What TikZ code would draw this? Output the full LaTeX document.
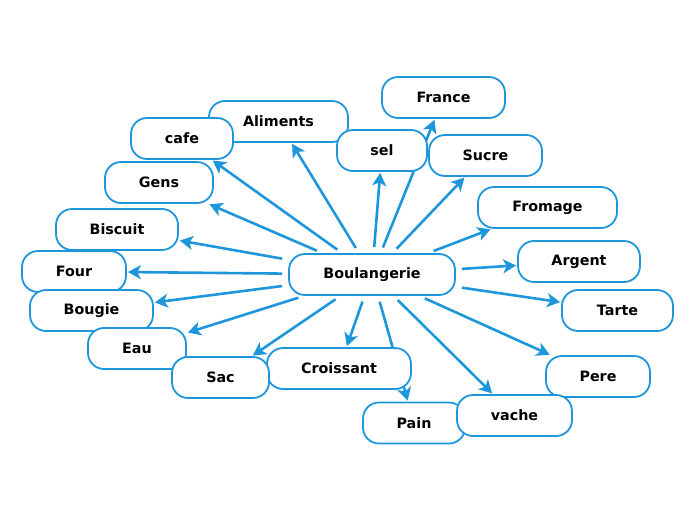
\documentclass[tikz,border=0pt]{standalone}
\usepackage{fontspec}
\setmainfont{DejaVu Sans}
\usetikzlibrary{arrows.meta,backgrounds}
\definecolor{mmblue}{HTML}{1E96DC}
\tikzset{
  box/.style={draw=mmblue, line width=1.8pt, fill=white, rounded corners=16pt,
    inner sep=0pt, minimum height=41pt, font=\fontsize{14.3}{16}\selectfont\bfseries},
  link/.style={draw=mmblue, line width=2.6pt, shorten <=6pt, shorten >=1pt,
    -{Stealth[length=13pt,width=14pt,inset=3.5pt]}}
}
\begin{document}
\begin{tikzpicture}[x=1pt,y=-1pt]
\useasboundingbox (0,0) rectangle (696,520);
\node[box, minimum width=166pt] (b) at (372,274.5) {Boulangerie};
\node[box, minimum width=139pt] (aliments) at (278.5,121.5) {Aliments};
\node[box, minimum width=102pt] (cafe) at (182,138.5) {cafe};
\node[box, minimum width=123pt] (france) at (443.5,97.5) {France};
\node[box, minimum width=90pt] (sel) at (382,150.5) {sel};
\node[box, minimum width=113pt] (sucre) at (485.5,155.5) {Sucre};
\node[box, minimum width=108pt] (gens) at (159,182.5) {Gens};
\node[box, minimum width=139pt] (fromage) at (547.5,207.5) {Fromage};
\node[box, minimum width=122pt] (biscuit) at (117,229.5) {Biscuit};
\node[box, minimum width=122pt] (argent) at (579,261.5) {Argent};
\node[box, minimum width=104pt] (four) at (74,271.5) {Four};
\node[box, minimum width=123pt] (bougie) at (91.5,310.5) {Bougie};
\node[box, minimum width=111pt] (tarte) at (617.5,310.5) {Tarte};
\node[box, minimum width=98pt] (eau) at (137,348.5) {Eau};
\node[box, minimum width=144pt] (croissant) at (339,368.5) {Croissant};
\node[box, minimum width=97pt] (sac) at (220.5,377.5) {Sac};
\node[box, minimum width=104pt] (pere) at (598,376.5) {Pere};
\node[box, minimum width=102pt] (pain) at (414,423) {Pain};
\node[box, minimum width=115pt] (vache) at (514.5,415.5) {vache};
\begin{scope}[on background layer]
\foreach \t in {aliments,cafe,france,sel,sucre,gens,fromage,biscuit,argent,four,bougie,tarte,eau,croissant,sac,pere,pain,vache}
  \draw[link] (b) -- (\t);
\end{scope}
\end{tikzpicture}
\end{document}
